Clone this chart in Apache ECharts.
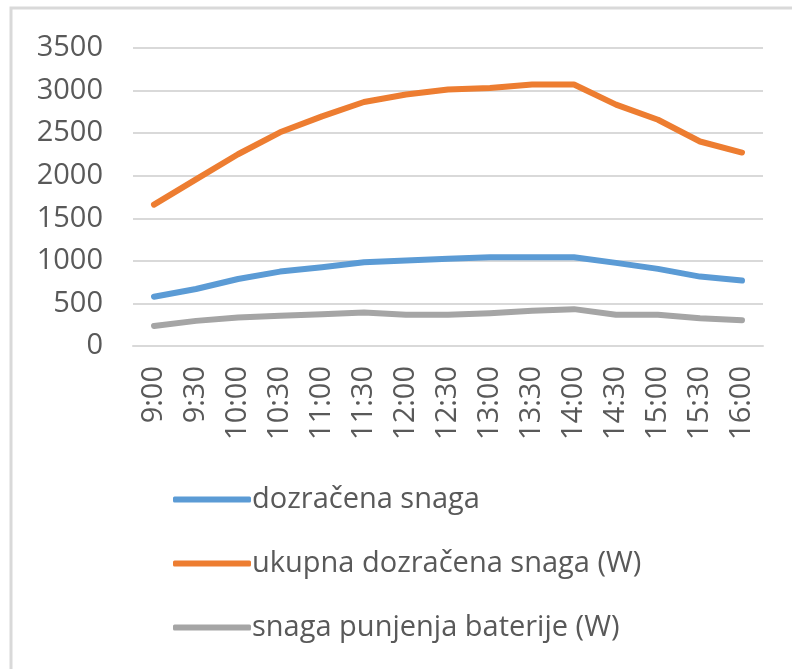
<!DOCTYPE html>
<html>
<head>
<meta charset="utf-8">
<script src="https://cdn.jsdelivr.net/npm/echarts@6/dist/echarts.min.js"></script>
<style>
  html, body { margin: 0; padding: 0; background: #fff; }
  #chart { width: 792px; height: 669px; }
</style>
</head>
<body>
<div id="chart"></div>
<script>
var times = ['9:00', '9:30', '10:00', '10:30', '11:00', '11:30', '12:00', '12:30',
  '13:00', '13:30', '14:00', '14:30', '15:00', '15:30', '16:00'];
var dozracena = [579, 669, 787, 874, 925, 984, 1004, 1024, 1043, 1043, 1043, 976, 906, 815, 768];
var ukupna = [1660, 1957, 2252, 2510, 2697, 2866, 2953, 3012, 3031, 3071, 3071, 2835, 2657, 2402, 2272];
var baterija = [236, 295, 335, 354, 374, 394, 366, 366, 386, 413, 433, 366, 366, 327, 303];

var names = ['dozračena snaga', 'ukupna dozračena snaga (W)', 'snaga punjenja baterije (W)'];
var colors = ['#5b9bd5', '#ed7d31', '#a5a5a5'];

var chart = echarts.init(document.getElementById('chart'));
var font = '"Open Sans", Lato, sans-serif';

function line(name, data, color) {
  return {
    name: name,
    type: 'line',
    data: data,
    symbol: 'none',
    color: color,
    lineStyle: { width: 6, color: color, cap: 'round', join: 'round' }
  };
}

var option = {
  animation: false,
  textStyle: { fontFamily: font },
  grid: { left: 133, right: 29, top: 48, bottom: 323 },
  xAxis: {
    type: 'category',
    data: times,
    boundaryGap: true,
    axisLine: { lineStyle: { color: '#d9d9d9', width: 2 } },
    axisTick: { show: false },
    axisLabel: { rotate: 90, margin: 20, fontSize: 29, color: '#595959', fontFamily: font }
  },
  yAxis: {
    type: 'value',
    min: 0,
    max: 3500,
    interval: 500,
    axisLine: { show: false },
    axisTick: { show: false },
    splitLine: { lineStyle: { color: '#d9d9d9', width: 2 } },
    axisLabel: { margin: 30, fontSize: 29, color: '#595959', fontFamily: font, formatter: function (v) { return String(v); } }
  },
  legend: {
    orient: 'vertical',
    left: 168,
    top: 480,
    itemWidth: 78,
    itemHeight: 6,
    itemGap: 35,
    icon: 'roundRect',
    data: names,
    textStyle: { fontSize: 29, color: '#595959', fontFamily: font, padding: [0, 0, 0, -4] }
  },
  graphic: [{
    type: 'polyline',
    shape: { points: [[11, 669], [11, 8], [792, 8]] },
    style: { stroke: '#d9d9d9', lineWidth: 3, fill: null }
  }],
  series: [
    line(names[0], dozracena, colors[0]),
    line(names[1], ukupna, colors[1]),
    line(names[2], baterija, colors[2])
  ]
};

chart.setOption(option);
</script>
</body>
</html>
